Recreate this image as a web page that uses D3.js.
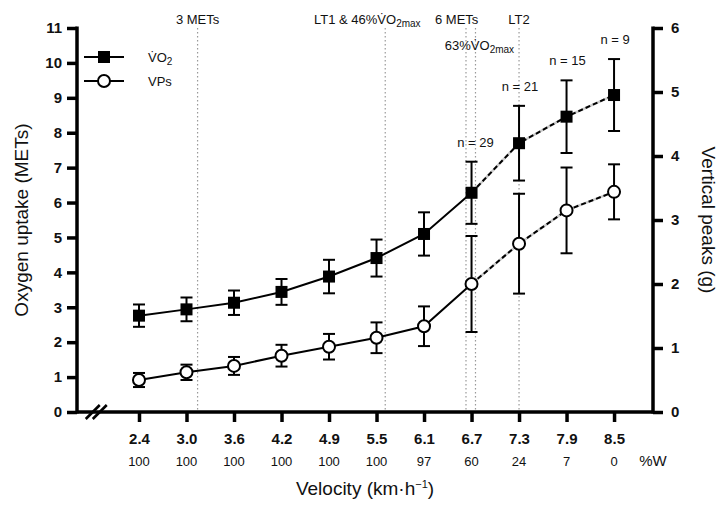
<!DOCTYPE html>
<html>
<head>
<meta charset="utf-8">
<script src="https://cdn.jsdelivr.net/npm/d3@7"></script>
<style>
  body { margin: 0; background: #fff; }
  text { font-family: "Liberation Sans", Arial, sans-serif; fill: #111; }
</style>
</head>
<body>
<svg id="chart" width="724" height="507"></svg>
<script>
// data
const velocities = ['2.4', '3.0', '3.6', '4.2', '4.9', '5.5', '6.1', '6.7', '7.3', '7.9', '8.5'];
const pctWalking = [100, 100, 100, 100, 100, 100, 97, 60, 24, 7, 0];
const vo2Mean = [2.76, 2.94, 3.13, 3.44, 3.88, 4.41, 5.10, 6.28, 7.70, 8.46, 9.08];
const vo2Sd   = [0.32, 0.34, 0.35, 0.37, 0.48, 0.53, 0.62, 0.89, 1.07, 1.04, 1.03];
const vpMean  = [0.50, 0.62, 0.72, 0.88, 1.02, 1.16, 1.34, 2.00, 2.63, 3.15, 3.44];
const vpSd    = [0.11, 0.12, 0.14, 0.17, 0.20, 0.24, 0.31, 0.75, 0.78, 0.67, 0.43];
const sampleN = [null, null, null, null, null, null, null, 29, 21, 15, 9];
const solidUntil = 7; // index where the dashed segment starts

const leftTicks = d3.range(0, 12);
const rightTicks = d3.range(0, 7);

// threshold lines (velocity in km/h)
const thresholds = [3.14, 5.61, 6.63, 6.75, 7.3];

const margin = {top: 28, left: 77, right: 71, bottom: 95};
const width = 724 - margin.left - margin.right;
const height = 507 - margin.top - margin.bottom;

const svg = d3.select('#chart');
const g = svg.append('g').attr('transform', `translate(${margin.left},${margin.top})`);

const xIdx = d3.scaleLinear().domain([-1.305, 10.82]).range([0, width]);
// piecewise scale from velocity to the category positions
const xVel = d3.scaleLinear()
    .domain(velocities.map(Number))
    .range(velocities.map((d, i) => xIdx(i)));

const yLeft = d3.scaleLinear().domain([0, 11]).range([height, 0]);
const yRight = d3.scaleLinear().domain([0, 6]).range([height, 0]);

// dotted threshold lines
g.selectAll('.thr')
    .data(thresholds)
    .join('line')
    .attr('class', 'thr')
    .attr('x1', d => xVel(d)).attr('x2', d => xVel(d))
    .attr('y1', 0).attr('y2', height)
    .attr('stroke', '#999')
    .attr('stroke-width', 1.2)
    .attr('stroke-dasharray', '1.5,2.5');

// axes
const axisLeft = d3.axisLeft(yLeft).tickValues(leftTicks).tickFormat(d3.format('d'))
    .tickSize(10).tickPadding(5);
const axisRight = d3.axisRight(yRight).tickValues(rightTicks).tickFormat(d3.format('d'))
    .tickSize(10).tickPadding(8);
const axisBottom = d3.axisBottom(xIdx).tickValues(d3.range(velocities.length))
    .tickFormat(i => velocities[i]).tickSize(10).tickPadding(11);

function styleAxis(sel) {
  sel.select('.domain').remove();
  sel.selectAll('.tick line').attr('stroke', '#000').attr('stroke-width', 3.5);
  sel.selectAll('.tick text')
      .attr('font-family', '"Liberation Sans", Arial, sans-serif')
      .attr('font-size', 15).attr('font-weight', 'bold').attr('fill', '#111');
}

g.append('g').call(axisLeft).call(styleAxis);
g.append('g').attr('transform', `translate(${width},0)`).call(axisRight).call(styleAxis);
g.append('g').attr('transform', `translate(0,${height})`).call(axisBottom).call(styleAxis);

// axis lines
g.append('line').attr('x1', 0).attr('x2', 0).attr('y1', -1.5).attr('y2', height + 1.5)
    .attr('stroke', '#000').attr('stroke-width', 3.5);
g.append('line').attr('x1', width).attr('x2', width).attr('y1', -1.5).attr('y2', height + 1.5)
    .attr('stroke', '#000').attr('stroke-width', 3.5);
g.append('line').attr('x1', 0).attr('x2', width).attr('y1', height).attr('y2', height)
    .attr('stroke', '#000').attr('stroke-width', 3.5);

// axis break marks
const brk = g.append('g').attr('transform', `translate(${xIdx(-0.9)},${height})`);
[-3.5, 3.5].forEach(dx => {
  brk.append('line').attr('x1', dx - 7).attr('y1', 7).attr('x2', dx + 7).attr('y2', -7)
      .attr('stroke', '#000').attr('stroke-width', 2.6);
});

// %W row
g.selectAll('.pct')
    .data(pctWalking)
    .join('text')
    .attr('class', 'pct')
    .attr('x', (d, i) => xIdx(i))
    .attr('y', height + 54)
    .attr('text-anchor', 'middle')
    .attr('font-size', 13)
    .text(d => d);
g.append('text').attr('x', width).attr('y', height + 54).attr('text-anchor', 'middle')
    .attr('font-size', 15).text('%W');

// axis titles
g.append('text')
    .attr('x', width / 2).attr('y', height + 83)
    .attr('text-anchor', 'middle').attr('font-size', 19)
    .html('Velocity (km·h<tspan font-size="11" dy="-7">−1</tspan><tspan dy="7">)</tspan>');
svg.append('text')
    .attr('transform', `translate(28,${margin.top + height / 2}) rotate(-90)`)
    .attr('text-anchor', 'middle').attr('font-size', 19)
    .text('Oxygen uptake (METs)');
svg.append('text')
    .attr('transform', `translate(702,${margin.top + height / 2}) rotate(90)`)
    .attr('text-anchor', 'middle').attr('font-size', 19)
    .text('Vertical peaks (g)');

// series
const series = [
  {mean: vo2Mean, sd: vo2Sd, y: yLeft, shape: 'square'},
  {mean: vpMean, sd: vpSd, y: yRight, shape: 'circle'}
];

series.forEach(s => {
  const pts = s.mean.map((m, i) => ({i, m, sd: s.sd[i]}));
  const line = d3.line().x(d => xIdx(d.i)).y(d => s.y(d.m));
  g.append('path').datum(pts.slice(0, solidUntil + 1))
      .attr('d', line).attr('fill', 'none').attr('stroke', '#000').attr('stroke-width', 2);
  g.append('path').datum(pts.slice(solidUntil))
      .attr('d', line).attr('fill', 'none').attr('stroke', '#ccc').attr('stroke-width', 2.5);
  g.append('path').datum(pts.slice(solidUntil))
      .attr('d', line).attr('fill', 'none').attr('stroke', '#000').attr('stroke-width', 2)
      .attr('stroke-dasharray', '5,3');

  const eb = g.selectAll(null).data(pts).join('g');
  eb.append('line')
      .attr('x1', d => xIdx(d.i)).attr('x2', d => xIdx(d.i))
      .attr('y1', d => s.y(d.m - d.sd)).attr('y2', d => s.y(d.m + d.sd))
      .attr('stroke', '#000').attr('stroke-width', 2);
  [-1, 1].forEach(k => {
    eb.append('line')
        .attr('x1', d => xIdx(d.i) - 6).attr('x2', d => xIdx(d.i) + 6)
        .attr('y1', d => s.y(d.m + k * d.sd)).attr('y2', d => s.y(d.m + k * d.sd))
        .attr('stroke', '#000').attr('stroke-width', 2);
  });

  if (s.shape === 'square') {
    g.selectAll(null).data(pts).join('rect')
        .attr('x', d => xIdx(d.i) - 6).attr('y', d => s.y(d.m) - 6)
        .attr('width', 12).attr('height', 12).attr('fill', '#000');
  } else {
    g.selectAll(null).data(pts).join('circle')
        .attr('cx', d => xIdx(d.i)).attr('cy', d => s.y(d.m))
        .attr('r', 6).attr('fill', '#fff').attr('stroke', '#000').attr('stroke-width', 2);
  }
});

// n labels above VO2 error bars
g.selectAll('.nlab')
    .data(vo2Mean.map((m, i) => ({i, m, sd: vo2Sd[i], n: sampleN[i]})).filter(d => d.n))
    .join('text')
    .attr('class', 'nlab')
    .attr('x', d => xIdx(d.i) + (d.n === 29 ? 4 : 1))
    .attr('y', d => yLeft(d.m + d.sd) - 15)
    .attr('text-anchor', 'middle').attr('font-size', 13)
    .text(d => `n = ${d.n}`);

// threshold labels
const vdot = 'V\u0307O';
g.append('text').attr('x', xVel(thresholds[0])).attr('y', -4).attr('text-anchor', 'middle')
    .attr('font-size', 13).text('3 METs');
g.append('text').attr('x', 237).attr('y', -4).attr('font-size', 13)
    .html(`LT1 &amp; 46%${vdot}<tspan font-size="10" dy="3">2max</tspan>`);
g.append('text').attr('x', xVel(thresholds[2]) - 31).attr('y', -4).attr('font-size', 13)
    .attr('fill', '#111').style('paint-order', 'stroke').attr('stroke', '#fff').attr('stroke-width', 3)
    .text('6 METs');
g.append('text').attr('x', xVel(thresholds[3]) + 4).attr('y', 22).attr('text-anchor', 'middle')
    .attr('font-size', 13)
    .html(`63%${vdot}<tspan font-size="10" dy="3">2max</tspan>`);
g.append('text').attr('x', xVel(thresholds[4])).attr('y', -4).attr('text-anchor', 'middle')
    .attr('font-size', 13).text('LT2');

// legend
const legend = g.append('g').attr('transform', 'translate(7,29)');
series.forEach((s, k) => {
  const row = legend.append('g').attr('transform', `translate(0,${k * 24})`);
  row.append('line').attr('x1', 0).attr('x2', 40).attr('stroke', '#000').attr('stroke-width', 2);
  if (s.shape === 'square') {
    row.append('rect').attr('x', 14).attr('y', -6).attr('width', 12).attr('height', 12).attr('fill', '#000');
  } else {
    row.append('circle').attr('cx', 20).attr('r', 6).attr('fill', '#fff')
        .attr('stroke', '#000').attr('stroke-width', 2);
  }
});
legend.append('text').attr('x', 64).attr('y', 5).attr('font-size', 13)
    .html(`${vdot}<tspan font-size="10" dy="3">2</tspan>`);
legend.append('text').attr('x', 64).attr('y', 29).attr('font-size', 13).text('VPs');
</script>
</body>
</html>
